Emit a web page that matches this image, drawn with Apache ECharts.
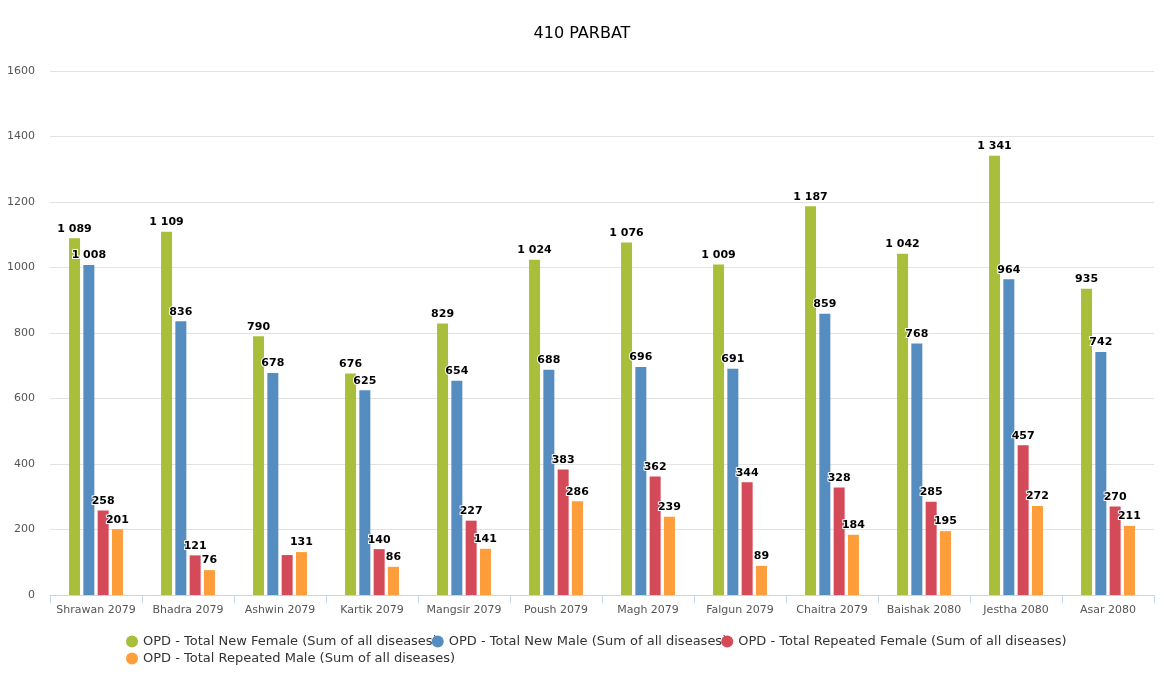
<!DOCTYPE html>
<html>
<head>
<meta charset="utf-8">
<script src="https://cdn.jsdelivr.net/npm/echarts@6/dist/echarts.min.js"></script>
<style>
  html, body { margin: 0; padding: 0; background: #fff; }
  #main { width: 1164px; height: 685px; }
</style>
</head>
<body>
<div id="main"></div>
<script>
var months = ['Shrawan 2079', 'Bhadra 2079', 'Ashwin 2079', 'Kartik 2079', 'Mangsir 2079', 'Poush 2079',
  'Magh 2079', 'Falgun 2079', 'Chaitra 2079', 'Baishak 2080', 'Jestha 2080', 'Asar 2080'];
var newFemale = [1089, 1109, 790, 676, 829, 1024, 1076, 1009, 1187, 1042, 1341, 935];
var newMale = [1008, 836, 678, 625, 654, 688, 696, 691, 859, 768, 964, 742];
var repFemale = [258, 121, 122, 140, 227, 383, 362, 344, 328, 285, 457, 270];
var repMale = [201, 76, 131, 86, 141, 286, 239, 89, 184, 195, 272, 211];
// labels hidden in the original (overlap)
var hiddenRepFemale = [2];

var names = [
    'OPD - Total New Female (Sum of all diseases)',
    'OPD - Total New Male (Sum of all diseases)',
    'OPD - Total Repeated Female (Sum of all diseases)',
    'OPD - Total Repeated Male (Sum of all diseases)'
];

var chartDom = document.getElementById('main');
var myChart = echarts.init(chartDom);

function fmt(v) {
    return String(v).replace(/\B(?=(\d{3})+(?!\d))/g, ' ');
}

var labelStyle = {
    show: true,
    position: 'top',
    distance: 4,
    color: '#000',
    fontWeight: 'bold',
    fontSize: 11,
    fontFamily: 'DejaVu Sans',
    textBorderColor: '#fff',
    textBorderWidth: 2,
    formatter: function (p) { return fmt(p.value); }
};

function mkSeries(name, values, color, hidden) {
    return {
        name: name,
        type: 'bar',
        barWidth: 11,
        barGap: '30%',
        itemStyle: { color: color },
        label: labelStyle,
        data: values.map(function (v, i) {
            if (hidden && hidden.indexOf(i) >= 0) return { value: v, label: { show: false } };
            return v;
        })
    };
}

var legendText = { fontSize: 13, color: '#333', fontFamily: 'DejaVu Sans' };

var option = {
    animation: false,
    textStyle: { fontFamily: 'DejaVu Sans' },
    title: {
        text: '410 PARBAT',
        left: 'center',
        top: 21,
        textStyle: { fontSize: 16, fontWeight: 'normal', color: '#000', fontFamily: 'DejaVu Sans' }
    },
    legend: [
        {
            data: names.slice(0, 3),
            top: 630,
            left: 121,
            itemGap: -6,
            icon: 'circle',
            itemWidth: 12,
            itemHeight: 12,
            textStyle: legendText
        },
        {
            data: names.slice(3),
            top: 647,
            left: 121,
            icon: 'circle',
            itemWidth: 12,
            itemHeight: 12,
            textStyle: legendText
        }
    ],
    grid: { left: 50, right: 10, top: 71, bottom: 90 },
    xAxis: {
        type: 'category',
        data: months,
        axisLine: { lineStyle: { color: '#c5d5e8' } },
        axisTick: { show: true, length: 8, lineStyle: { color: '#c5d5e8' } },
        axisLabel: { interval: 0, color: '#555', fontSize: 11, margin: 10 }
    },
    yAxis: {
        type: 'value',
        min: 0,
        max: 1600,
        interval: 200,
        axisLabel: { color: '#555', fontSize: 11, margin: 15, formatter: function (v) { return String(v); } },
        splitLine: { lineStyle: { color: '#e2e2e2' } }
    },
    series: [
        mkSeries(names[0], newFemale, '#a9bf3b'),
        mkSeries(names[1], newMale, '#558dc0'),
        mkSeries(names[2], repFemale, '#d44a59', hiddenRepFemale),
        mkSeries(names[3], repMale, '#fd9e3a')
    ]
};
option && myChart.setOption(option);
</script>
</body>
</html>
